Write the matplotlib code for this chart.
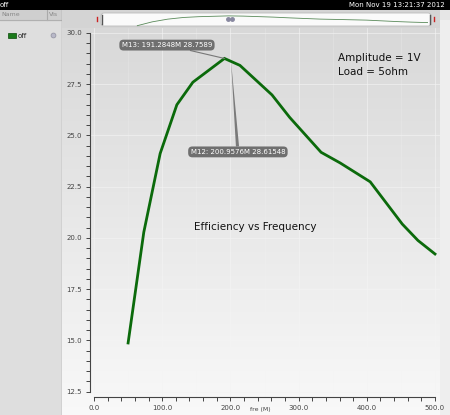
import matplotlib
matplotlib.use("Agg")
import matplotlib.pyplot as plt
import numpy as np
from matplotlib.patches import FancyBboxPatch, Rectangle
from matplotlib.ticker import MultipleLocator, FormatStrFormatter

# ---- data ----
freq = [50, 73, 97, 121.5, 145, 191.28, 214, 261, 287, 333, 361, 405, 452, 475, 500]
eff = [14.88, 20.28, 24.12, 26.5, 27.6, 28.7589, 28.42, 26.98, 25.88, 24.18, 23.66, 22.74, 20.68, 19.88, 19.22]
series_name = "off"
m13 = (191.2848, 28.7589)
m12 = (200.9576, 28.61548)
title_text = "Efficiency vs Frequency"
info_lines = ["Amplitude = 1V", "Load = 5ohm"]
timestamp = "Mon Nov 19 13:21:37 2012"
xlabel = "fre (M)"

W, H = 450, 415
fig = plt.figure(figsize=(W / 100, H / 100), dpi=100)
fig.patch.set_facecolor("#e6e6e6")

def fx(px):
    return px / W

def fy(py):
    return 1 - py / H

# background gradient for plot region
bg = fig.add_axes([fx(62), 0, fx(440) - fx(62), fy(20)])
grad = np.linspace(0.845, 0.975, 256)[:, None]
img = np.dstack([grad, grad, grad])
bg.imshow(img, aspect="auto", extent=[0, 1, 0, 1], origin="upper")
bg.set_axis_off()

# right border strip
rb = fig.add_axes([fx(440), 0, fx(450) - fx(440), fy(20)])
rb.set_facecolor("#eeeeee")
rb.set_xticks([]); rb.set_yticks([])
for s in rb.spines.values():
    s.set_visible(False)

# left panel
lp = fig.add_axes([0, 0, fx(62), fy(10)])
lp.set_xlim(0, 62); lp.set_ylim(405, 0)
lp.set_facecolor("#dedede")
lp.set_xticks([]); lp.set_yticks([])
for s in lp.spines.values():
    s.set_visible(False)
lp.add_patch(Rectangle((0, 0), 62, 10, color="#cfcfcf"))
lp.plot([47, 47], [0, 10], color="#aaaaaa", lw=0.8)
lp.plot([0, 62], [10, 10], color="#b0b0b0", lw=0.8)
lp.text(1, 5, "Name", fontsize=4.5, color="#888888", va="center")
lp.text(49, 5, "Vis", fontsize=4.5, color="#888888", va="center")
lp.add_patch(Rectangle((8, 23), 8, 5, facecolor="#1a7a1a", edgecolor="#0a4a0a", lw=0.5))
lp.text(18, 25.5, series_name, fontsize=5, color="#222222", va="center")
lp.plot([53], [25.5], marker="o", ms=3.5, color="#b8b8c8", mec="#9090a0", mew=0.5)
lp.plot([61.5, 61.5], [0, 405], color="#a0a0a0", lw=1)

# top black bar
tb = fig.add_axes([0, fy(10), 1, 10 / H])
tb.set_facecolor("black")
tb.set_xticks([]); tb.set_yticks([])
for s in tb.spines.values():
    s.set_visible(False)
tb.set_xlim(0, W); tb.set_ylim(0, 1)
tb.text(0, 0.5, series_name, color="white", fontsize=5, va="center")
tb.text(445, 0.5, timestamp, color="white", fontsize=5, va="center", ha="right")

# navigator strip
ns = fig.add_axes([fx(62), fy(28), fx(440) - fx(62), 18 / H])
ns.set_facecolor("#d4d4d4")
ns.set_xticks([]); ns.set_yticks([])
for s in ns.spines.values():
    s.set_visible(False)
ns.set_xlim(62, 440); ns.set_ylim(28, 10)
ns.add_patch(FancyBboxPatch((101, 13), 330, 13, boxstyle="round,pad=0,rounding_size=3",
                            facecolor="#fafafa", edgecolor="#bbbbbb", lw=0.6))
ns.plot([97, 97], [17, 21], color="#cc2222", lw=1)
ns.plot([434, 434], [17, 21], color="#cc2222", lw=1)
ns.plot([101.5, 101.5], [15, 24], color="#555555", lw=1)
ns.plot([429.5, 429.5], [15, 24], color="#555555", lw=1)
ns.plot([228, 232], [19, 19], marker="o", ms=2.5, ls="none", color="#8888a0")

nav = fig.add_axes([fx(105), fy(27), fx(428) - fx(105), 12 / H])
nav.patch.set_alpha(0)
nav.plot(freq, eff, color="#5a8a5a", lw=0.6)
nav.set_xlim(0, 500)
nav.set_ylim(13, 30)
nav.set_axis_off()

# main axes
ax = fig.add_axes([fx(90), fy(397), fx(440) - fx(90), fy(28) - fy(397)])
ax.patch.set_alpha(0)
ax.set_xlim((90 - 94) / 0.682, (440 - 94) / 0.682)
ax.set_ylim(30 - (397 - 33) / 20.5, 30 + 5 / 20.5)

ax.xaxis.set_major_locator(MultipleLocator(100))
ax.xaxis.set_minor_locator(MultipleLocator(20))
ax.yaxis.set_major_locator(MultipleLocator(2.5))
ax.yaxis.set_minor_locator(MultipleLocator(0.5))
ax.xaxis.set_major_formatter(FormatStrFormatter("%.1f"))
ax.yaxis.set_major_formatter(FormatStrFormatter("%.1f"))

ax.spines["top"].set_visible(False)
ax.spines["right"].set_visible(False)
ax.spines["left"].set_bounds(12.5, 30)
ax.spines["bottom"].set_bounds(0, 500)
ax.spines["left"].set_color("#444444")
ax.spines["bottom"].set_color("#444444")
ax.spines["left"].set_linewidth(0.8)
ax.spines["bottom"].set_linewidth(0.8)

ax.tick_params(axis="both", which="both", direction="out", color="#444444", width=0.7)
ax.tick_params(axis="both", which="major", length=3, labelsize=5, labelcolor="#444444")
ax.tick_params(axis="both", which="minor", length=3)
ax.tick_params(axis="y", which="major", pad=14)
for lab in ax.get_yticklabels():
    lab.set_horizontalalignment("left")
ax.tick_params(axis="x", pad=3)

# grid
for xv in np.arange(0, 501, 100):
    ax.axvline(xv, color="#f4f4f4", lw=0.6, alpha=0.7, zorder=0)
for xv in np.arange(50, 501, 100):
    ax.axvline(xv, color="#f4f4f4", lw=0.4, alpha=0.4, zorder=0)
for yv in np.arange(12.5, 30.01, 2.5):
    ax.axhline(yv, color="#f4f4f4", lw=0.6, alpha=0.7, zorder=0)

ax.plot(freq, eff, color="#0b6a0b", lw=2.0, solid_joinstyle="miter", zorder=3)

fig.text(fx(260), fy(409.5), xlabel, ha="center", va="center",
         fontsize=4.5, color="#444444")

# annotations
box = dict(boxstyle="round,pad=0.35,rounding_size=0.6", fc="#6f6f6f", ec="none")
ax.annotate("M13: 191.2848M 28.7589", xy=m13, xytext=(107, 29.41),
            fontsize=5, color="white", ha="center", va="center", bbox=box,
            arrowprops=dict(arrowstyle="-", color="#777777", lw=0.8,
                            shrinkA=0, shrinkB=0), zorder=5)
ax.annotate("M12: 200.9576M 28.61548", xy=m12, xytext=(211, 24.2),
            fontsize=5, color="white", ha="center", va="center", bbox=box,
            arrowprops=dict(arrowstyle="wedge,tail_width=0.45", fc="#7a7a7a",
                            ec="none", shrinkA=0, shrinkB=0), zorder=5)

ax.text(358, 28.78, info_lines[0], fontsize=7.5, color="#111111", va="center")
ax.text(358, 28.1, info_lines[1], fontsize=7.5, color="#111111", va="center")
ax.text(237, 20.55, title_text, fontsize=7.5, color="#111111", ha="center", va="center")

fig.savefig("out.png", dpi=100)
